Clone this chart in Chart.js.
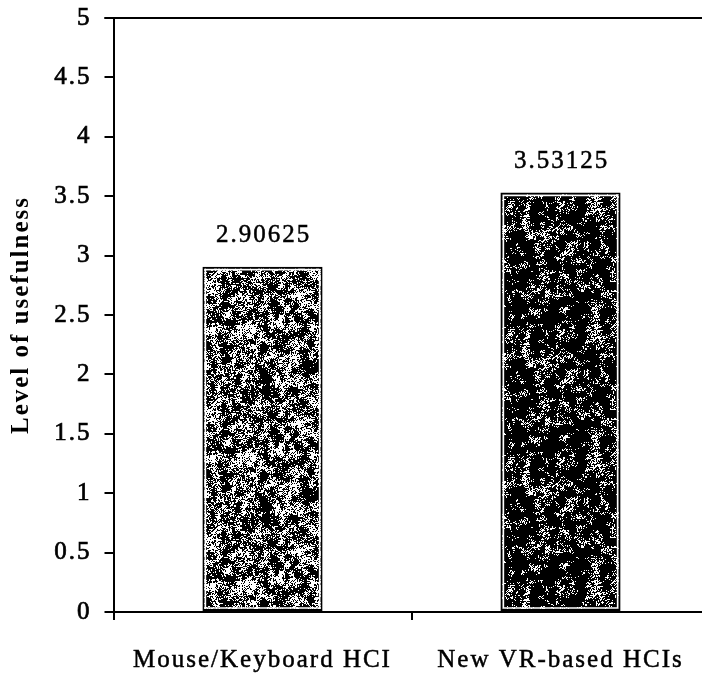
<!DOCTYPE html>
<html>
<head>
<meta charset="utf-8">
<script src="https://cdn.jsdelivr.net/npm/chart.js@4/dist/chart.umd.min.js"></script>
<style>
  html, body { margin: 0; padding: 0; background: #fff; overflow: hidden; }
  #wrap { width: 712px; height: 676px; }
</style>
</head>
<body>
<div id="wrap"><canvas id="chart" width="712" height="676"></canvas></div>
<script>
// Mean usefulness rating per interface type
const categories = ['Mouse/Keyboard HCI', 'New VR-based HCIs'];
const usefulness = [2.90625, 3.53125];
const yTicks = [0, 0.5, 1, 1.5, 2, 2.5, 3, 3.5, 4, 4.5, 5];

const SERIF = '"Liberation Serif", "Times New Roman", serif';
const SPACING = '2px';

// Grainy black/white fill built from a fixed integer hash so it renders identically each time
function grain(darkness, seed) {
  const size = 128;
  const c = document.createElement('canvas');
  c.width = size; c.height = size;
  const g = c.getContext('2d');
  const img = g.createImageData(size, size);
  const hash = (x, y) => {
    let h = (x * 374761393 + y * 668265263 + seed * 2246822519) | 0;
    h = Math.imul(h ^ (h >>> 13), 1274126177);
    h ^= h >>> 16;
    return (h >>> 0) / 4294967296;
  };
  // smooth value noise for blotches
  const smooth = (x, y, cell) => {
    const gx = Math.floor(x / cell), gy = Math.floor(y / cell);
    const fx = (x % cell) / cell, fy = (y % cell) / cell;
    const a = hash(gx, gy), b = hash(gx + 1, gy), c2 = hash(gx, gy + 1), d = hash(gx + 1, gy + 1);
    const top = a + (b - a) * fx, bot = c2 + (d - c2) * fx;
    return top + (bot - top) * fy;
  };
  for (let y = 0; y < size; y++) {
    for (let x = 0; x < size; x++) {
      const v = 0.55 * smooth(x, y, 5) + 0.45 * hash(x + 1000, y + 1000);
      const on = v < darkness ? 0 : 255;
      const i = (y * size + x) * 4;
      img.data[i] = img.data[i + 1] = img.data[i + 2] = on;
      img.data[i + 3] = 255;
    }
  }
  g.putImageData(img, 0, 0);
  return document.getElementById('chart').getContext('2d').createPattern(c, 'repeat');
}

const letterSpacingPlugin = {
  id: 'letterSpacing',
  beforeLayout(chart) { chart.ctx.letterSpacing = SPACING; },
  beforeDraw(chart) { chart.ctx.letterSpacing = SPACING; }
};

// Closing line along the top of the plot area
const topLinePlugin = {
  id: 'topLine',
  afterDraw(chart) {
    const { ctx, chartArea } = chart;
    ctx.save();
    ctx.strokeStyle = '#000';
    ctx.lineWidth = 2;
    ctx.beginPath();
    ctx.moveTo(chartArea.left - 9, chartArea.top);
    ctx.lineTo(chartArea.right + 4, chartArea.top);
    ctx.stroke();
    ctx.restore();
  }
};

// White inner rim on each bar and the value printed above it
const barDecorPlugin = {
  id: 'barDecor',
  afterDatasetsDraw(chart) {
    const { ctx } = chart;
    const meta = chart.getDatasetMeta(0);
    ctx.save();
    meta.data.forEach((bar, i) => {
      const p = bar.getProps(['x', 'y', 'base', 'width'], true);
      const l = p.x - p.width / 2, r = p.x + p.width / 2;
      ctx.strokeStyle = '#fff';
      ctx.lineWidth = 1.5;
      ctx.strokeRect(l + 3, p.y + 3, r - l - 6, p.base - p.y - 6);
      const text = String(chart.data.datasets[0].data[i]);
      ctx.font = '25px ' + SERIF;
      ctx.letterSpacing = SPACING;
      ctx.textAlign = 'center';
      ctx.textBaseline = 'middle';
      ctx.strokeStyle = '#000';
      ctx.lineWidth = 0.5;
      ctx.strokeText(text, p.x + 1, p.y - 31);
      ctx.fillStyle = '#000';
      ctx.fillText(text, p.x + 1, p.y - 31);
    });
    ctx.restore();
  }
};

new Chart(document.getElementById('chart'), {
  type: 'bar',
  data: {
    labels: categories,
    datasets: [{
      data: usefulness,
      backgroundColor: [grain(0.54, 1), grain(0.68, 2)],
      borderColor: '#000',
      borderWidth: 2,
      borderSkipped: false,
      barPercentage: 0.8,
      categoryPercentage: 0.504
    }]
  },
  options: {
    responsive: false,
    animation: false,
    devicePixelRatio: 1,
    layout: { padding: { top: 0, right: 2.5, bottom: 0, left: 0 } },
    plugins: {
      legend: { display: false },
      tooltip: { enabled: false }
    },
    scales: {
      x: {
        offset: true,
        grid: {
          offset: true,
          drawOnChartArea: false,
          drawTicks: true,
          tickLength: 8,
          color: '#000',
          lineWidth: 2
        },
        border: { display: true, color: '#000', width: 2 },
        ticks: {
          color: '#000',
          textStrokeColor: '#000',
          textStrokeWidth: 0.5,
          padding: 25,
          maxRotation: 0,
          font: { family: SERIF, size: 25 }
        },
        afterFit(scale) { scale.height = 64; }
      },
      y: {
        min: 0,
        max: 5,
        afterBuildTicks(scale) { scale.ticks = yTicks.map(v => ({ value: v })); },
        grid: {
          drawOnChartArea: false,
          drawTicks: true,
          tickLength: 9,
          color: '#000',
          lineWidth: 2
        },
        border: { display: true, color: '#000', width: 2 },
        ticks: {
          color: '#000',
          textStrokeColor: '#000',
          textStrokeWidth: 0.7,
          padding: 13,
          font: { family: SERIF, size: 25 },
          callback: v => String(v)
        },
        title: {
          display: true,
          text: 'Level of usefulness',
          color: '#000',
          font: { family: SERIF, size: 25, weight: 'bold' },
          padding: { top: 7, bottom: 0 }
        },
        afterFit(scale) {
          scale.width = 113.5;
          scale.paddingTop = 18;
          scale.paddingBottom = 0;
        }
      }
    }
  },
  plugins: [letterSpacingPlugin, topLinePlugin, barDecorPlugin]
});
</script>
</body>
</html>
